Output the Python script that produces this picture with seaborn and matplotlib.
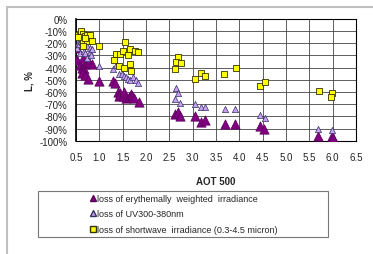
import numpy as np
import pandas as pd
import matplotlib.pyplot as plt
import seaborn as sns
from matplotlib.patches import Rectangle
from matplotlib.lines import Line2D

sns.set_style('white')
plt.rcParams['font.family'] = ['Liberation Sans', 'DejaVu Sans']

# loss of erythemally weighted irradiance
ery_x = [0.51, 0.53, 0.58, 0.62, 0.64, 0.66, 0.70, 0.74, 0.78, 0.84, 0.63, 0.70, 0.75, 1.00,
         1.29, 1.34, 1.40, 1.45, 1.42, 1.50, 1.52, 1.58, 1.63, 1.68, 1.70, 1.74, 1.85,
         2.62, 2.69, 2.73, 3.04, 3.18, 3.26, 3.69, 3.90, 4.45, 4.54, 5.69, 5.98, 6.00]
ery_y = [-24, -34, -38, -40, -32, -41, -37, -36, -35, -37, -44, -46, -49, -51,
         -51, -53, -60, -61, -63, -63, -60, -65, -64, -62, -63, -65, -68,
         -78, -76, -80, -80, -85, -83, -86, -86, -88, -90, -96, -96, -98]

# loss of UV300-380nm
uv_x = [0.53, 0.55, 0.57, 0.60, 0.62, 0.59, 0.66, 0.69, 0.73, 0.74, 0.79, 0.79, 0.85, 0.81, 1.00,
        1.29, 1.35, 1.42, 1.48, 1.53, 1.58, 1.62, 1.66, 1.73, 1.78, 1.83,
        2.64, 2.69, 2.62, 2.73, 3.04, 3.18, 3.26, 3.69, 3.91, 4.45, 4.55, 5.69, 5.98]
uv_y = [-24, -20, -21, -18, -19, -28, -26, -28, -22, -32, -24, -27, -25, -30, -39,
        -41, -38, -45, -45, -47, -48, -49, -50, -48, -50, -53,
        -57, -61, -66, -69, -70, -72, -72, -74, -74, -79, -81, -90, -91]

# loss of shortwave irradiance (0.3-4.5 micron)
sw_x = [0.53, 0.58, 0.61, 0.64, 0.69, 0.74, 0.79, 0.64, 0.74, 0.85, 0.64, 1.00, 0.55, 0.70,
        1.54, 1.36, 1.45, 1.50, 1.31, 1.62, 1.66, 1.77, 1.83, 1.65, 1.43, 1.53, 1.68,
        2.69, 2.64, 2.74, 2.62, 3.04, 3.18, 3.26, 3.68, 3.92, 4.45, 4.55, 5.70, 5.99, 5.96]
sw_y = [-13, -14, -10, -12, -14, -13, -13, -18, -18, -18, -22, -22, -15, -16,
        -19, -29, -29, -26, -34, -30, -25, -26, -27, -37, -39, -40, -43,
        -31, -35, -36, -41, -49, -44, -47, -45, -40, -55, -52, -59, -61, -64]

labels = ['loss of erythemally  weighted  irradiance',
          'loss of UV300-380nm',
          'loss of shortwave  irradiance (0.3-4.5 micron)']

fig = plt.figure(figsize=(3.73, 2.55), dpi=100)
ax = fig.add_axes([0.204, 0.444, 0.75, 0.478])

sns.scatterplot(x=ery_x, y=ery_y, ax=ax, marker='^', s=45, color='#800080',
                edgecolor='#5a005a', linewidth=0.5, zorder=3)
sns.scatterplot(x=uv_x, y=uv_y, ax=ax, marker='^', s=20, color='#c9a0f0',
                edgecolor='#333366', linewidth=0.5, zorder=4)
sns.scatterplot(x=sw_x, y=sw_y, ax=ax, marker='s', s=18, color='#ffff00',
                edgecolor='#333300', linewidth=0.6, zorder=5)

ax.set_xlim(0.5, 6.5)
ax.set_ylim(-100, 0)
ax.set_xticks(np.arange(0.5, 6.51, 0.5))
ax.set_yticks(np.arange(-100, 1, 10))
ax.set_xticklabels(['%.1f' % v for v in np.arange(0.5, 6.51, 0.5)], fontsize=7)
ax.set_yticklabels(['%d%%' % v for v in range(-100, 1, 10)], fontsize=7)
ax.tick_params(length=0, pad=6)
ax.tick_params(axis='x', pad=8)
ax.grid(True, color='#444444', linewidth=0.6)
ax.set_axisbelow(True)
for s in ax.spines.values():
    s.set_color('black')
    s.set_linewidth(0.8)
ax.spines['left'].set_linewidth(1.2)

ax.set_xlabel('AOT 500', fontsize=7, fontweight='bold', labelpad=10)
ax.set_ylabel('L, %', fontsize=7, fontweight='bold', labelpad=4)

# legend with its own wide box
handles = [
    Line2D([], [], linestyle='none', marker='^', markersize=4, color='#800080', markeredgecolor='#5a005a'),
    Line2D([], [], linestyle='none', marker='^', markersize=4, color='#c9a0f0', markeredgecolor='#333366'),
    Line2D([], [], linestyle='none', marker='s', markersize=4, color='#ffff00', markeredgecolor='#333300'),
]
fig.legend(handles, labels, loc='center', bbox_to_anchor=(184 / 373, 1 - 215 / 255),
           frameon=False, fontsize=6.5, handlelength=0.6, handletextpad=0.2,
           labelspacing=0.75, borderpad=0)
fig.patches.append(Rectangle((38 / 373, 1 - 238 / 255), 290 / 373, 46 / 255,
                             transform=fig.transFigure, fill=False,
                             edgecolor='#777777', linewidth=0.8))

# outer chart frame
fig.patches.append(Rectangle((7 / 373, -0.1), 1.2, 1 - 8 / 255 + 0.1,
                             transform=fig.transFigure, fill=False,
                             edgecolor='#c0c0c0', linewidth=1.5))

fig.savefig('out.png', dpi=100)
